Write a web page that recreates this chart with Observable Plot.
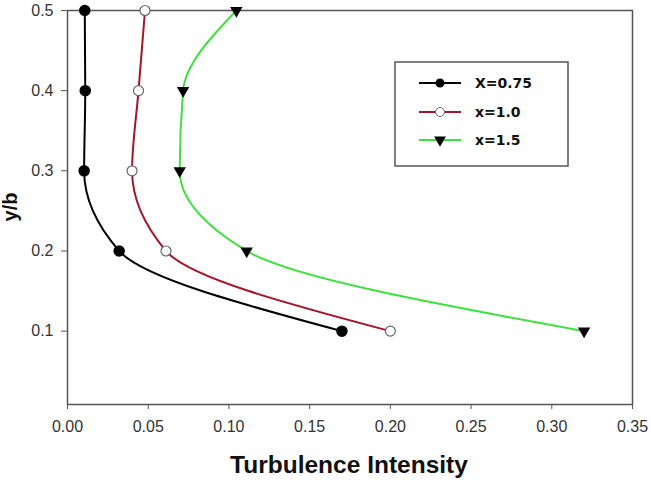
<!DOCTYPE html>
<html>
<head>
<meta charset="utf-8">
<script src="https://cdn.jsdelivr.net/npm/d3@7"></script>
<script src="https://cdn.jsdelivr.net/npm/@observablehq/plot@0.6"></script>
<style>
  body { margin: 0; background: #fff; }
  #chart svg { display: block; }
</style>
</head>
<body>
<div id="chart"></div>
<script>
// Vertical stations (y/b) and turbulence intensity profiles at three streamwise positions
const yb = [0.5, 0.4, 0.3, 0.2, 0.1];
const seriesNames = ["X=0.75", "x=1.0", "x=1.5"];
const tiX075 = [0.0107, 0.011, 0.0103, 0.032, 0.170];
const tiX10 = [0.048, 0.044, 0.040, 0.061, 0.200];
const tiX15 = [0.1046, 0.0716, 0.0695, 0.111, 0.320];
const xTicks = [0, 0.05, 0.10, 0.15, 0.20, 0.25, 0.30, 0.35];
const yTicks = [0.1, 0.2, 0.3, 0.4, 0.5];
const seriesColors = ["#000000", "#a3152a", "#3fe03f"];

const profiles = [tiX075, tiX10, tiX15];
const rows = profiles.flatMap((vals, i) =>
  vals.map((v, j) => ({series: seriesNames[i], ti: v, yb: yb[j]}))
);
const bySeries = name => rows.filter(d => d.series === name);

const W = 651, H = 488;
const font = "'Liberation Sans', Arial, sans-serif";
const legendFont = "'DejaVu Sans', sans-serif";

const plot = Plot.plot({
  width: W,
  height: H,
  marginLeft: 67,
  marginRight: 19,
  marginTop: 10,
  marginBottom: 84,
  style: {fontFamily: font, fontSize: "16px", color: "#333", background: "#fff"},
  x: {domain: [0, 0.35], ticks: xTicks, tickFormat: d3.format(".2f"), label: null},
  y: {domain: [0.0085, 0.5], ticks: yTicks, tickFormat: d3.format(".1f"), label: null},
  color: {domain: seriesNames, range: seriesColors},
  marks: [
    Plot.frame({stroke: "#555", strokeWidth: 1.5}),
    Plot.axisX({ticks: xTicks, tickFormat: d3.format(".2f"), tickSize: 5, tickPadding: 11, stroke: "#555", fill: "#333", label: null}),
    Plot.axisY({ticks: yTicks, tickFormat: d3.format(".1f"), tickSize: 6, tickPadding: 8, stroke: "#555", fill: "#333", label: null}),
    Plot.line(rows, {x: "ti", y: "yb", z: "series", stroke: "series", strokeWidth: 2, curve: "monotone-y"}),
    Plot.dot(bySeries("X=0.75"), {x: "ti", y: "yb", r: 5, fill: "#000", stroke: "#000"}),
    Plot.dot(bySeries("x=1.0"), {x: "ti", y: "yb", r: 5, fill: "#fff", stroke: "#666", strokeWidth: 1.2}),
    Plot.dot(bySeries("x=1.5"), {x: "ti", y: "yb", r: 4.6, symbol: "triangle", rotate: 180, fill: "#000", stroke: "none"})
  ]
});

const svg = d3.select(plot);

// Axis titles
svg.append("text")
  .attr("x", 349).attr("y", 473)
  .attr("text-anchor", "middle")
  .style("font", `bold 24.5px ${font}`)
  .attr("fill", "#111")
  .text("Turbulence Intensity");

svg.append("text")
  .attr("transform", "translate(17,207) rotate(-90)")
  .attr("text-anchor", "middle")
  .style("font", `bold 20px ${font}`)
  .attr("fill", "#111")
  .text("y/b");

// Legend box
const lg = svg.append("g").attr("text-anchor", "start");
lg.append("rect")
  .attr("x", 395).attr("y", 62).attr("width", 173).attr("height", 104)
  .attr("fill", "#fff").attr("stroke", "#555").attr("stroke-width", 1.5);
const legendRows = [83, 112, 140];
const symbolTri = d3.symbol(d3.symbolTriangle, 60)();
seriesNames.forEach((name, i) => {
  const y = legendRows[i];
  lg.append("line").attr("x1", 419).attr("x2", 461).attr("y1", y).attr("y2", y)
    .attr("stroke", seriesColors[i]).attr("stroke-width", 2);
  if (i === 0) {
    lg.append("circle").attr("cx", 440).attr("cy", y).attr("r", 4.5).attr("fill", "#000");
  } else if (i === 1) {
    lg.append("circle").attr("cx", 440).attr("cy", y).attr("r", 4.5).attr("fill", "#fff").attr("stroke", "#666");
  } else {
    lg.append("path").attr("d", symbolTri).attr("transform", `translate(440,${y}) rotate(180)`).attr("fill", "#000");
  }
  lg.append("text").attr("x", 475).attr("y", y).attr("dy", "0.36em")
    .style("font", `bold 14px ${legendFont}`).attr("fill", "#111").text(name);
});

document.getElementById("chart").appendChild(plot);
</script>
</body>
</html>
